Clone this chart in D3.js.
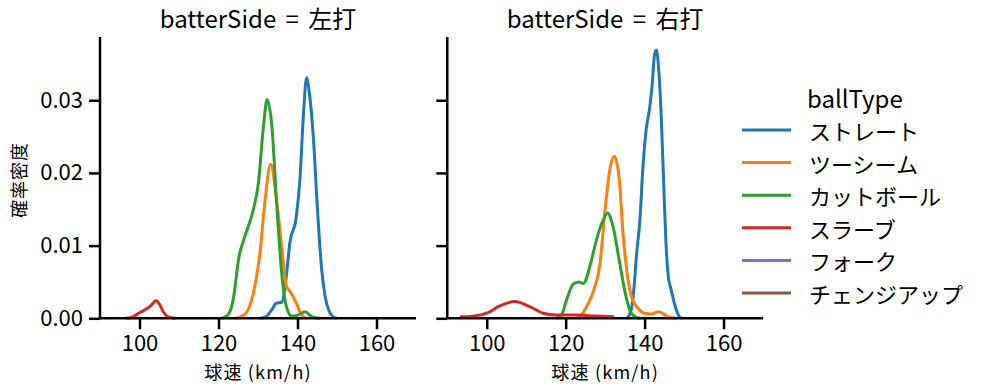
<!DOCTYPE html>
<html>
<head>
<meta charset="utf-8">
<script src="https://cdn.jsdelivr.net/npm/d3@7"></script>
<style>
  html, body { margin: 0; padding: 0; background: #fff; }
  svg { display: block; font-family: "Noto Sans CJK JP", "Noto Sans", sans-serif; }
</style>
</head>
<body>
<svg id="chart" width="987" height="391"></svg>
<script>
// ---- data ----
const panels = ["左打", "右打"];
const ballTypes = ["ストレート", "ツーシーム", "カットボール", "スラーブ", "フォーク", "チェンジアップ"];
const colors = ["#1f77b4", "#ff7f0e", "#2ca02c", "#d62728", "#9467bd", "#8c564b"];
const xTicks = [100, 120, 140, 160];
const yTicks = [0, 0.01, 0.02, 0.03];

// 左打 : [speed km/h, density]
const leftStraight = [[130.5,0],[132,0.0002],[133.5,0.0012],[134.7,0.0021],[136,0.0022],[137,0.005],[138.1,0.0105],[139.7,0.0140],[140.6,0.019],[141.5,0.028],[142.3,0.0331],[143,0.031],[144,0.025],[145,0.0155],[146,0.0075],[147,0.003],[148,0.001],[149,0.0002],[150,0]];
const leftTwoSeam = [[124.2,0],[125.5,0.0002],[127.1,0.0008],[128.8,0.0034],[130.5,0.009],[131.8,0.0163],[133.2,0.0212],[134.7,0.0163],[136,0.0099],[137.2,0.0044],[138.1,0.0037],[139.7,0.0021],[140.6,0.0009],[141.5,0.0002],[142.5,0]];
const leftCutter = [[120.8,0],[122.3,0.0004],[123.7,0.0025],[125.2,0.0085],[126.5,0.0110],[128.8,0.0149],[130.1,0.0186],[131.4,0.0265],[132.3,0.0301],[133.5,0.0265],[134.7,0.0160],[136,0.0062],[137.1,0.0018],[138.5,0.0003],[140,0.0004],[141.9,0.0009],[143,0.0005],[144.2,0.0001],[145.7,0]];
const leftSlurve = [[96.6,0],[98.3,0.0002],[100.1,0.0008],[101.8,0.0013],[102.8,0.0017],[104.2,0.0024],[105.1,0.0019],[106,0.0009],[107.3,0.0002],[109.2,0]];
const leftFork = [];
const leftChangeup = [];

// 右打
const rightStraight = [[135.5,0],[136.5,0.001],[137.1,0.003],[138,0.009],[138.8,0.0135],[139.6,0.021],[140.4,0.026],[141.3,0.029],[141.9,0.032],[142.5,0.0362],[143,0.0369],[143.6,0.034],[144.2,0.028],[144.8,0.019],[145.4,0.0105],[146,0.0058],[146.6,0.0042],[147.3,0.0026],[148,0.0012],[148.7,0.0003],[149.5,0]];
const rightTwoSeam = [[122.8,0],[124,0.0005],[125.3,0.0016],[127.2,0.0040],[128.7,0.0075],[129.9,0.0145],[131.2,0.0205],[132.3,0.0223],[133.5,0.0195],[134.6,0.0112],[135.5,0.0065],[136.5,0.0033],[138,0.0016],[140,0.0007],[141.7,0.0006],[143.6,0.0009],[144.8,0.0006],[146,0.0002],[148,0]];
const rightCutter = [[117.7,0],[119,0.0005],[120.2,0.0025],[121.9,0.0047],[123.2,0.0050],[124.5,0.0048],[126.3,0.0075],[127.8,0.0108],[129.5,0.0135],[130.6,0.0145],[132,0.0126],[133.5,0.0082],[135.2,0.0032],[136.5,0.0008],[138,0.0001],[139,0]];
const rightSlurve = [[93.2,0.0002],[96.5,0.0003],[100,0.0007],[103.3,0.0017],[107.1,0.0023],[110.9,0.0016],[114.3,0.0007],[117.7,0.00045],[122.8,0.00045],[127.8,0.0003],[132.3,0.0002]];
const rightFork = [];
const rightChangeup = [];

const panelSeries = [
  [leftStraight, leftTwoSeam, leftCutter, leftSlurve, leftFork, leftChangeup],
  [rightStraight, rightTwoSeam, rightCutter, rightSlurve, rightFork, rightChangeup]
];

// ---- layout ----
const svg = d3.select("#chart");
const axTop = 37, axBottom = 318.3;
const panelX = [[100, 416], [447.3, 763]];
const y = d3.scaleLinear().domain([0, 0.0387]).range([axBottom, axTop]);

panels.forEach((p, i) => {
  const x = d3.scaleLinear().domain([90, 170]).range(panelX[i]);
  const g = svg.append("g");

  // curves
  const line = d3.line().x(d => x(d[0])).y(d => y(d[1])).curve(d3.curveMonotoneX);
  panelSeries[i].forEach((s, k) => {
    if (!s.length) return;
    g.append("path").attr("d", line(s)).attr("fill", "none")
      .attr("stroke", colors[k]).attr("stroke-width", 3).attr("stroke-linejoin", "round").attr("stroke-linecap", "butt");
  });

  // x axis
  const xa = g.append("g").attr("transform", `translate(0,${axBottom})`)
    .call(d3.axisBottom(x).tickValues(xTicks).tickSize(11).tickPadding(6).tickFormat(d3.format("d")));
  // y axis
  const ya = g.append("g").attr("transform", `translate(${panelX[i][0]},0)`)
    .call(d3.axisLeft(y).tickValues(yTicks).tickSize(11).tickPadding(6)
      .tickFormat(i === 0 ? d3.format(".2f") : () => ""));
  [xa, ya].forEach(a => {
    a.select(".domain").attr("stroke", "#000").attr("stroke-width", 2.5);
    a.selectAll(".tick line").attr("stroke", "#000").attr("stroke-width", 2.5);
    a.selectAll(".tick text").attr("fill", "#000").style("font-size", "22px")
      .style("font-family", "'Noto Sans CJK JP', sans-serif");
  });
  xa.select(".domain").attr("d", `M${panelX[i][0]},0H${panelX[i][1]}`);
  ya.select(".domain").attr("d", `M0,${axBottom}V${axTop}`);

  // title
  const cx = (panelX[i][0] + panelX[i][1]) / 2;
  svg.append("text").attr("x", cx).attr("y", 28).attr("text-anchor", "middle")
    .style("font-size", "24px").style("word-spacing", "4px").text(`batterSide = ${p}`);
  // x label
  svg.append("text").attr("x", cx).attr("y", 371).attr("text-anchor", "middle")
    .attr("dominant-baseline", "central").style("font-size", "18px")
    .style("letter-spacing", "1.2px").text("球速 (km/h)");
});

// y label
svg.append("text").attr("transform", "translate(18,180) rotate(-90)")
  .attr("text-anchor", "middle").attr("dominant-baseline", "central")
  .style("font-size", "18px").style("letter-spacing", "1px").text("確率密度");

// legend
const lg = svg.append("g");
lg.append("text").attr("x", 807).attr("y", 97).attr("dominant-baseline", "central")
  .style("font-size", "24px").text("ballType");
ballTypes.forEach((b, k) => {
  const yy = 130 + k * 32.6;
  lg.append("line").attr("x1", 742).attr("x2", 791).attr("y1", yy).attr("y2", yy)
    .attr("stroke", colors[k]).attr("stroke-width", 3);
  lg.append("text").attr("x", 809).attr("y", yy).attr("dominant-baseline", "central")
    .style("font-size", "22px").text(b);
});
</script>
</body>
</html>
